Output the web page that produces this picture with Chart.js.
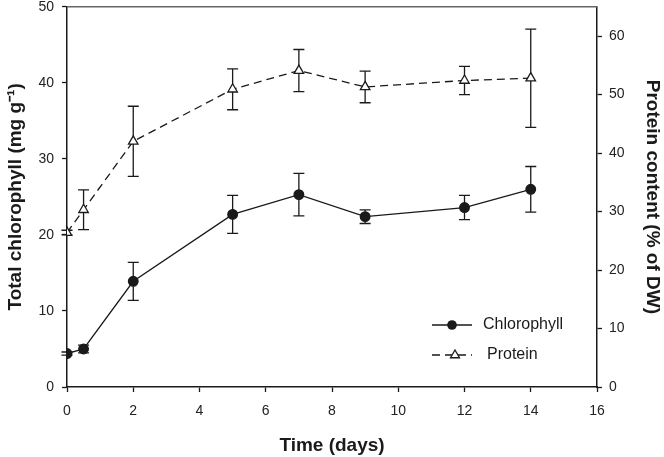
<!DOCTYPE html>
<html>
<head>
<meta charset="utf-8">
<script src="https://cdn.jsdelivr.net/npm/chart.js@4.4.1/dist/chart.umd.min.js"></script>
<style>
  html, body { margin: 0; padding: 0; background: #fff; }
  #wrap { width: 664px; height: 457px; }
</style>
</head>
<body>
<div id="wrap"><canvas id="c"></canvas></div>
<script>
const days = [0, 0.5, 2, 5, 7, 9, 12, 14];
const chlorophyll = [4.4, 5.0, 13.9, 22.7, 25.3, 22.4, 23.6, 26.0];
const chlorophyllErr = [0.2, 0.5, 2.5, 2.5, 2.8, 0.9, 1.6, 3.0];
const protein = [26.4, 30.3, 42.0, 50.9, 54.1, 51.3, 52.4, 52.8];
const proteinErr = [0.4, 3.4, 6.0, 3.5, 3.6, 2.7, 2.4, 8.4];
const seriesNames = ["Chlorophyll", "Protein"];

const FONT = "'Liberation Sans', Arial, sans-serif";
const ink = "#1a1a1a";

const toPoints = (xs, ys) => xs.map((x, i) => ({ x: x, y: ys[i] }));

// vertical error bars with caps, drawn under the markers
const errorBars = {
    id: "errorBars",
    beforeDatasetsDraw(chart) {
        const ctx = chart.ctx;
        const xs = chart.scales.x;
        chart.data.datasets.forEach((ds) => {
            const ys = chart.scales[ds.yAxisID];
            ctx.save();
            ctx.strokeStyle = ink;
            ctx.lineWidth = 1.3;
            ds.data.forEach((p, i) => {
                const e = ds.errors[i];
                const px = xs.getPixelForValue(p.x);
                const t = ys.getPixelForValue(p.y + e);
                const b = ys.getPixelForValue(p.y - e);
                ctx.beginPath();
                ctx.moveTo(px, t); ctx.lineTo(px, b);
                ctx.moveTo(px - 5.5, t); ctx.lineTo(px + 5.5, t);
                ctx.moveTo(px - 5.5, b); ctx.lineTo(px + 5.5, b);
                ctx.stroke();
            });
            ctx.restore();
        });
    },
};

// top frame line + legend inside the plot
const frameAndLegend = {
    id: "frameAndLegend",
    afterDraw(chart) {
        const ctx = chart.ctx;
        const a = chart.chartArea;
        ctx.save();
        ctx.strokeStyle = "#666";
        ctx.lineWidth = 1.5;
        ctx.beginPath();
        ctx.moveTo(a.left, a.top);
        ctx.lineTo(a.right, a.top);
        ctx.stroke();

        const x0 = a.right - 165;
        const rows = [a.bottom - 62, a.bottom - 32];
        ctx.strokeStyle = ink;
        ctx.lineWidth = 1.3;
        ctx.font = "16px " + FONT;
        ctx.fillStyle = ink;
        ctx.textBaseline = "middle";

        // chlorophyll row
        ctx.beginPath();
        ctx.moveTo(x0, rows[0]); ctx.lineTo(x0 + 40, rows[0]);
        ctx.stroke();
        ctx.beginPath();
        ctx.arc(x0 + 20, rows[0], 4.8, 0, Math.PI * 2);
        ctx.fill();
        ctx.fillText(seriesNames[0], x0 + 51, rows[0]);

        // protein row
        ctx.setLineDash([8, 5]);
        ctx.beginPath();
        ctx.moveTo(x0, rows[1]); ctx.lineTo(x0 + 40, rows[1]);
        ctx.stroke();
        ctx.setLineDash([]);
        const tx = x0 + 23, ty = rows[1], r = 5;
        ctx.fillStyle = "#fff";
        ctx.beginPath();
        ctx.moveTo(tx, ty - r);
        ctx.lineTo(tx + r * 0.9, ty + r * 0.55);
        ctx.lineTo(tx - r * 0.9, ty + r * 0.55);
        ctx.closePath();
        ctx.fill();
        ctx.stroke();
        ctx.fillStyle = ink;
        ctx.fillText(seriesNames[1], x0 + 55, rows[1]);
        ctx.restore();
    },
};

const fitV = (s) => { s.width = 67; s.paddingTop = 0; s.paddingBottom = 0; };

const ctx = document.getElementById("c").getContext("2d");

new Chart(ctx, {
    type: "line",
    data: {
        datasets: [
            {
                label: seriesNames[0],
                data: toPoints(days, chlorophyll),
                errors: chlorophyllErr,
                yAxisID: "y",
                borderColor: ink,
                borderWidth: 1.3,
                pointStyle: "circle",
                pointRadius: 4.8,
                pointBackgroundColor: ink,
                pointBorderColor: ink,
                tension: 0,
            },
            {
                label: seriesNames[1],
                data: toPoints(days, protein),
                errors: proteinErr,
                yAxisID: "y2",
                borderColor: ink,
                borderWidth: 1.3,
                borderDash: [8, 5],
                pointStyle: "triangle",
                pointRadius: 5.5,
                pointBorderWidth: 1.3,
                pointBackgroundColor: "#fff",
                pointBorderColor: ink,
                tension: 0,
            },
        ],
    },
    options: {
        responsive: true,
        maintainAspectRatio: false,
        animation: false,
        layout: { padding: { top: 6, left: 0, right: 0, bottom: 0 } },
        plugins: {
            legend: { display: false },
            tooltip: { enabled: false },
        },
        scales: {
            x: {
                type: "linear",
                min: 0,
                max: 16,
                afterFit: (s) => { s.height = 70; s.paddingLeft = 0; s.paddingRight = 0; },
                border: { display: true, color: ink, width: 1.5 },
                grid: { drawOnChartArea: false, drawTicks: true, tickLength: 5, tickColor: ink, tickWidth: 1.3 },
                ticks: { stepSize: 2, color: "#222", padding: 11, font: { family: FONT, size: 14 } },
                title: {
                    display: true,
                    text: "Time (days)",
                    color: ink,
                    padding: { top: 0, bottom: 0 },
                    font: { family: FONT, size: 19, weight: "bold" },
                },
            },
            y: {
                position: "left",
                min: 0,
                max: 50,
                afterFit: fitV,
                border: { display: true, color: ink, width: 1.5 },
                grid: { drawOnChartArea: false, drawTicks: true, tickLength: 5, tickColor: ink, tickWidth: 1.3 },
                ticks: { stepSize: 10, color: "#222", padding: 8, font: { family: FONT, size: 14 } },
                title: {
                    display: true,
                    text: "Total chlorophyll (mg g\u207B\u00B9)",
                    color: ink,
                    padding: { top: 4, bottom: 0 },
                    font: { family: FONT, size: 19, weight: "bold" },
                },
            },
            y2: {
                position: "right",
                min: 0,
                max: 65,
                afterFit: fitV,
                border: { display: true, color: ink, width: 1.5 },
                grid: { drawOnChartArea: false, drawTicks: true, tickLength: 5, tickColor: ink, tickWidth: 1.3 },
                ticks: { stepSize: 10, includeBounds: false, color: "#222", padding: 7, font: { family: FONT, size: 14 } },
                title: {
                    display: true,
                    text: "Protein content (% of DW)",
                    color: ink,
                    padding: { top: 0, bottom: 0 },
                    font: { family: FONT, size: 19, weight: "bold" },
                },
            },
        },
    },
    plugins: [errorBars, frameAndLegend],
});
</script>
</body>
</html>
